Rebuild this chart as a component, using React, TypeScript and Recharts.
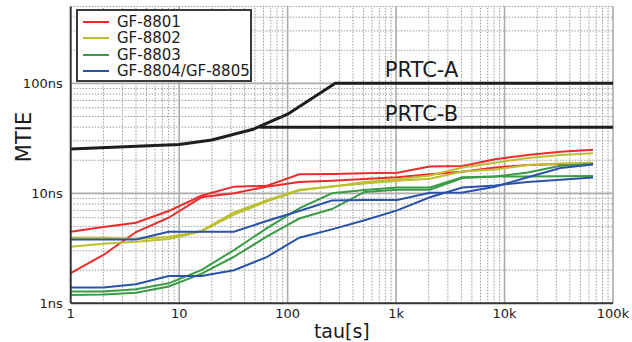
import React from 'react';
import { LineChart, Line, XAxis, YAxis, ReferenceLine, ReferenceDot, Legend } from 'recharts';

const FONT = '"DejaVu Sans", "Liberation Sans", sans-serif';
const TEXT = '#1a1a1a';

const RED = '#ee2a2a';
const YELLOW = '#bcbf32';
const GREEN = '#3b9b47';
const BLUE = '#2a52a8';
const BLACK = '#1e1e1e';

// tau [s] sampling points of the measured curves
const taus = [1, 2, 4, 8, 16, 32, 64, 128, 256, 512, 1024, 2048, 4096, 8192, 16384, 32768, 65536];

// MTIE [ns]
const gf8801a = [4.48, 4.95, 5.4, 6.9, 9.5, 11.5, 11.7, 14.9, 15.0, 15.2, 15.4, 17.5, 17.7, 20.4, 22.3, 23.9, 24.9];
const gf8801b = [1.88, 2.75, 4.45, 6.0, 9.2, 10.0, 11.5, 12.7, 13.0, 13.5, 14.0, 14.9, 15.7, 17.2, 18.1, 18.5, 18.7];
const gf8802a = [3.95, 3.95, 3.85, 4.0, 4.55, 6.7, 8.6, 10.8, 11.5, 12.7, 13.4, 14.5, 17.2, 19.0, 21.0, 22.3, 23.1];
const gf8802b = [3.27, 3.48, 3.62, 3.85, 4.5, 6.4, 8.4, 10.6, 11.6, 12.3, 13.0, 13.6, 15.8, 16.5, 18.1, 18.7, 19.0];
const gf8803a = [1.28, 1.28, 1.34, 1.52, 2.0, 3.05, 4.8, 7.3, 10.0, 10.7, 11.3, 11.3, 14.0, 14.2, 14.2, 14.3, 14.4];
const gf8803b = [1.19, 1.2, 1.25, 1.42, 1.85, 2.65, 4.03, 5.9, 7.2, 10.3, 10.8, 10.8, 13.8, 14.2, 15.5, 17.8, 18.5];
const gf8804a = [3.8, 3.8, 3.8, 4.48, 4.48, 4.48, 5.6, 6.9, 8.6, 8.7, 8.7, 10.1, 10.2, 11.5, 14.0, 17.0, 18.3];
const gf8804b = [1.39, 1.39, 1.49, 1.77, 1.77, 2.0, 2.63, 3.95, 4.7, 5.7, 7.0, 9.2, 11.3, 11.8, 12.7, 13.3, 13.9];

// PRTC masks
const prtcATau = [1, 10, 20, 48, 100, 275, 100000];
const prtcAVal = [25.3, 27.8, 30.5, 38.2, 52.5, 100, 100];
const prtcBTau = [55, 100000];
const prtcBVal = [40, 40];

// axes
const xTicks = [1, 10, 100, 1000, 10000, 100000];
const xTickLabels = ['1', '10', '100', '1k', '10k', '100k'];
const yTicks = [1, 10, 100];
const yTickLabels = ['1ns', '10ns', '100ns'];

const xMajorGrid = [10, 100, 1000, 10000, 100000];
const xMinorGrid: number[] = [];
[1, 10, 100, 1000, 10000].forEach((d) => {
  for (let k = 2; k <= 9; k++) xMinorGrid.push(k * d);
});
const yMajorGrid = [10, 100];
const yMinorGrid = [2, 3, 4, 5, 6, 7, 8, 9, 20, 30, 40, 50, 60, 70, 80, 90, 200, 300, 400, 500];

const zip = (xs: number[], ys: number[]) => xs.map((x, i) => ({ x, y: ys[i] }));

const series = [
  { key: 'r1', data: zip(taus, gf8801a), color: RED },
  { key: 'r2', data: zip(taus, gf8801b), color: RED },
  { key: 'y1', data: zip(taus, gf8802a), color: YELLOW },
  { key: 'y2', data: zip(taus, gf8802b), color: YELLOW },
  { key: 'g1', data: zip(taus, gf8803a), color: GREEN },
  { key: 'g2', data: zip(taus, gf8803b), color: GREEN },
  { key: 'b1', data: zip(taus, gf8804a), color: BLUE },
  { key: 'b2', data: zip(taus, gf8804b), color: BLUE },
];

const legendItems = [
  { name: 'GF-8801', color: RED },
  { name: 'GF-8802', color: YELLOW },
  { name: 'GF-8803', color: GREEN },
  { name: 'GF-8804/GF-8805', color: BLUE },
];

const LegendBox = () => (
  <div
    style={{
      boxSizing: 'border-box',
      width: 176,
      height: 73,
      border: '2px solid #3a3a3a',
      background: '#fff',
      padding: '3px 0 0 5px',
      fontFamily: FONT,
      fontSize: 15,
      color: TEXT,
    }}
  >
    {legendItems.map((it) => (
      <div key={it.name} style={{ display: 'flex', alignItems: 'center', height: 16.3, whiteSpace: 'nowrap' }}>
        <span style={{ display: 'inline-block', width: 26, height: 2, background: it.color, marginRight: 8 }} />
        <span style={{ lineHeight: '16px' }}>{it.name}</span>
      </div>
    ))}
  </div>
);

const MaskLabel = (props: any) => {
  const vb = props.viewBox || {};
  return (
    <text x={vb.x} y={vb.y - 6} fontSize={21} fontFamily={FONT} fill={TEXT} textAnchor="start">
      {props.value}
    </text>
  );
};

const YLabel = () => (
  <text x={24} y={137} fontSize={21} fontFamily={FONT} fill={TEXT} textAnchor="middle" dominantBaseline="central" transform="rotate(-90 24 137)">
    MTIE
  </text>
);

export default function App() {
  return (
    <div style={{ position: 'absolute', left: 0, top: 0 }}>
      <LineChart width={632} height={342} margin={{ top: 6.5, right: 19, bottom: 0, left: 0 }}>
        <XAxis
          type="number"
          dataKey="x"
          scale="log"
          domain={[1, 100000]}
          allowDataOverflow
          ticks={xTicks}
          interval={0}
          tickFormatter={(v: number) => xTickLabels[xTicks.indexOf(v)]}
          axisLine={{ stroke: '#333', strokeWidth: 2 }}
          tickLine={false}
          tickSize={3}
          tickMargin={2}
          height={38.7}
          tick={{ fontSize: 13, fill: TEXT, fontFamily: FONT }}
          label={{ value: 'tau[s]', position: 'insideBottom', offset: 4, fontSize: 19, fill: TEXT, fontFamily: FONT }}
        />
        <YAxis
          type="number"
          dataKey="y"
          scale="log"
          domain={[1, 500]}
          allowDataOverflow
          ticks={yTicks}
          interval={0}
          tickFormatter={(v: number) => yTickLabels[yTicks.indexOf(v)]}
          axisLine={{ stroke: '#333', strokeWidth: 2 }}
          tickLine={false}
          width={70.7}
          tick={{ fontSize: 13, fill: TEXT, fontFamily: FONT }}
          label={<YLabel />}
        />
        {xMinorGrid.map((v) => (
          <ReferenceLine key={'xm' + v} x={v} stroke="#999" strokeWidth={1} strokeDasharray="1.5 1.5" />
        ))}
        {yMinorGrid.map((v) => (
          <ReferenceLine key={'ym' + v} y={v} stroke="#999" strokeWidth={1} strokeDasharray="1.5 1.5" />
        ))}
        {xMajorGrid.map((v) => (
          <ReferenceLine key={'xM' + v} x={v} stroke="#ababab" strokeWidth={1.6} />
        ))}
        {yMajorGrid.map((v) => (
          <ReferenceLine key={'yM' + v} y={v} stroke="#ababab" strokeWidth={1.6} />
        ))}
        <Line data={zip(prtcATau, prtcAVal)} dataKey="y" stroke={BLACK} strokeWidth={3} dot={false} isAnimationActive={false} type="linear" legendType="none" />
        <Line data={zip(prtcBTau, prtcBVal)} dataKey="y" stroke={BLACK} strokeWidth={3} dot={false} isAnimationActive={false} type="linear" legendType="none" />
        {series.map((s) => (
          <Line
            key={s.key}
            data={s.data}
            dataKey="y"
            stroke={s.color}
            strokeWidth={2}
            dot={false}
            isAnimationActive={false}
            type="linear"
          />
        ))}
        <ReferenceDot x={788} y={100} r={0} fill="none" stroke="none" ifOverflow="visible" label={<MaskLabel value="PRTC-A" />} />
        <ReferenceDot x={788} y={40} r={0} fill="none" stroke="none" ifOverflow="visible" label={<MaskLabel value="PRTC-B" />} />
        <Legend
          layout="horizontal"
          verticalAlign="middle"
          align="center"
          content={<LegendBox />}
          wrapperStyle={{ position: 'absolute', left: 76, top: 9, width: 176, height: 73 }}
        />
      </LineChart>
    </div>
  );
}
